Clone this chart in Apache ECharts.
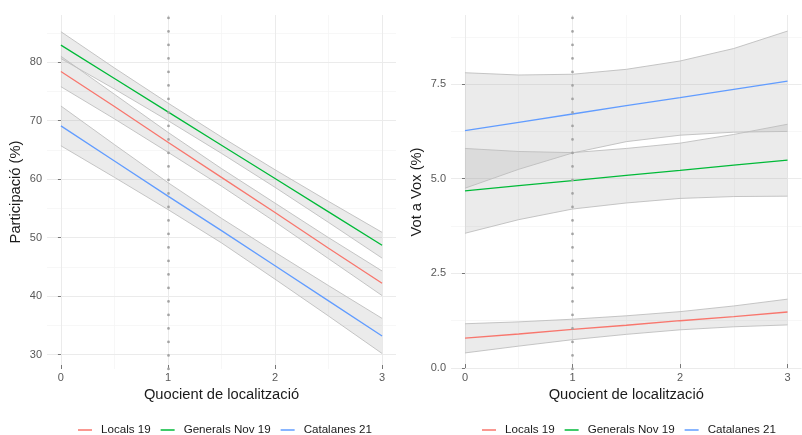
<!DOCTYPE html>
<html><head><meta charset="utf-8">
<script src="https://cdn.jsdelivr.net/npm/echarts@6/dist/echarts.min.js"></script>
<style>html,body{margin:0;padding:0;background:#fff}#c{width:802px;height:435px}</style>
</head><body><div id="c"></div>
<script>
// ---- data ----
const seriesNames = ['Locals 19', 'Generals Nov 19', 'Catalanes 21'];
const xValues = [0, 0.5, 1, 1.5, 2, 2.5, 3];
const xTicks = [0, 1, 2, 3];
const xMinorTicks = [0.5, 1.5, 2.5];
const refLineX = 1;
const xTitle = 'Quocient de localització';

// Left panel: Participació (%)
const partTitle = 'Participació (%)';
const partTicks = [30, 40, 50, 60, 70, 80];
const partMinorTicks = [35, 45, 55, 65, 75, 85];
const partLocals     = [78.4, 72.4, 66.3, 60.3, 54.3, 48.2, 42.2];
const partLocalsLo   = [75.8, 70.3, 64.6, 58.8, 52.7, 46.4, 40.1];
const partLocalsHi   = [81.0, 74.5, 68.0, 61.8, 55.9, 50.0, 44.3];
const partGenerals   = [82.9, 77.2, 71.5, 65.8, 60.1, 54.4, 48.7];
const partGeneralsLo = [80.6, 75.4, 70.0, 64.4, 58.6, 52.6, 46.5];
const partGeneralsHi = [85.2, 79.0, 73.0, 67.2, 61.6, 56.2, 50.9];
const partCatalanes   = [69.1, 63.1, 57.1, 51.2, 45.2, 39.2, 33.2];
const partCatalanesLo = [65.7, 60.3, 54.8, 49.1, 42.9, 36.6, 30.2];
const partCatalanesHi = [72.5, 65.9, 59.4, 53.3, 47.5, 41.8, 36.2];

// Right panel: Vot a Vox (%)
const voxTitle = 'Vot a Vox (%)';
const voxTicks = [0, 2.5, 5, 7.5];
const voxMinorTicks = [1.25, 3.75, 6.25, 8.75];
const voxLocals     = [0.79, 0.90, 1.02, 1.13, 1.25, 1.36, 1.48];
const voxLocalsLo   = [0.40, 0.58, 0.75, 0.89, 1.01, 1.09, 1.14];
const voxLocalsHi   = [1.17, 1.22, 1.29, 1.38, 1.49, 1.64, 1.82];
const voxGenerals   = [4.68, 4.82, 4.95, 5.09, 5.22, 5.36, 5.49];
const voxGeneralsLo = [3.56, 3.92, 4.20, 4.36, 4.48, 4.53, 4.54];
const voxGeneralsHi = [5.80, 5.72, 5.69, 5.80, 5.94, 6.17, 6.44];
const voxCatalanes   = [6.27, 6.49, 6.71, 6.93, 7.14, 7.36, 7.58];
const voxCatalanesLo = [4.75, 5.25, 5.68, 5.98, 6.15, 6.23, 6.25];
const voxCatalanesHi = [7.80, 7.74, 7.76, 7.89, 8.11, 8.44, 8.90];

// ---- style ----
const colors = ['#F8766D', '#00BA38', '#619CFF'];
const font = "'Liberation Sans', Arial, Helvetica, sans-serif";
const bandFill = 'rgba(153,153,153,0.2)';
const bandEdge = '#BEBEBE';

const panels = [
  { lines: [partLocals, partGenerals, partCatalanes],
    los: [partLocalsLo, partGeneralsLo, partCatalanesLo],
    his: [partLocalsHi, partGeneralsHi, partCatalanesHi],
    ticks: partTicks, minor: partMinorTicks, title: partTitle,
    min: 27.55, max: 88.05, nameGap: 24, fmt: v => String(v) },
  { lines: [voxLocals, voxGenerals, voxCatalanes],
    los: [voxLocalsLo, voxGeneralsLo, voxCatalanesLo],
    his: [voxLocalsHi, voxGeneralsHi, voxCatalanesHi],
    ticks: voxTicks, minor: voxMinorTicks, title: voxTitle,
    min: -0.025, max: 9.325, nameGap: 27, fmt: v => Number(v).toFixed(1) }
];

const grids = [
  { left: 47, top: 15, width: 349, height: 354 },
  { left: 451, top: 15, width: 350.5, height: 354 }
];

const xAxes = [], yAxes = [], series = [];
panels.forEach((p, g) => {
  xAxes.push({
    gridIndex: g, type: 'value', min: -0.13, max: 3.13,
    axisLine: { show: false }, splitLine: { show: false },
    axisTick: { show: true, inside: true, length: 4, customValues: xTicks, lineStyle: { color: '#777', width: 1 } },
    axisLabel: { customValues: xTicks, margin: 3, fontSize: 11, color: '#595959', fontFamily: font },
    name: xTitle, nameLocation: 'middle', nameGap: 17,
    nameTextStyle: { fontSize: 14.7, color: '#1a1a1a', fontFamily: font }
  });
  yAxes.push({
    gridIndex: g, type: 'value', min: p.min, max: p.max,
    axisLine: { show: false }, splitLine: { show: false },
    axisTick: { show: true, length: 3, customValues: p.ticks, lineStyle: { color: '#777', width: 1 } },
    axisLabel: { customValues: p.ticks, margin: 5, fontSize: 11, color: '#595959', fontFamily: font, formatter: p.fmt },
    name: p.title, nameLocation: 'middle', nameGap: p.nameGap, nameRotate: 90,
    nameTextStyle: { fontSize: 14.7, color: '#1a1a1a', fontFamily: font }
  });
  const gridLineData = []
    .concat(xMinorTicks.map(v => ({ xAxis: v, lineStyle: { color: '#F4F4F4', width: 0.7, type: 'solid' } })))
    .concat(p.minor.filter(v => v <= p.max).map(v => ({ yAxis: v, lineStyle: { color: '#F4F4F4', width: 0.7, type: 'solid' } })))
    .concat(xTicks.map(v => ({ xAxis: v, lineStyle: { color: '#EBEBEB', width: 1, type: 'solid' } })))
    .concat(p.ticks.map(v => ({ yAxis: v, lineStyle: { color: '#EBEBEB', width: 1, type: 'solid' } })));
  series.push({
    type: 'line', xAxisIndex: g, yAxisIndex: g, silent: true, symbol: 'none', z: 0,
    data: xValues.map((x, i) => [x, p.lines[0][i]]), lineStyle: { opacity: 0 },
    markLine: { silent: true, symbol: 'none', label: { show: false }, z: 0, animation: false, data: gridLineData }
  });
  // confidence bands: filled polygon + edge lines
  p.los.forEach((lo, k) => {
    const hi = p.his[k];
    series.push({
      type: 'custom', xAxisIndex: g, yAxisIndex: g, silent: true, z: 2,
      data: xValues.map((x, i) => [x, lo[i], hi[i]]),
      encode: { x: 0, y: [1, 2] },
      renderItem: (params, api) => {
        if (params.dataIndex !== 0) return null;
        const pts = [];
        for (let i = 0; i < xValues.length; i++) pts.push(api.coord([xValues[i], hi[i]]));
        for (let i = xValues.length - 1; i >= 0; i--) pts.push(api.coord([xValues[i], lo[i]]));
        return { type: 'polygon', shape: { points: pts }, style: { fill: bandFill } };
      }
    });
    [lo, hi].forEach(edge => {
      series.push({
        type: 'line', xAxisIndex: g, yAxisIndex: g, silent: true, symbol: 'none', z: 2,
        data: xValues.map((x, i) => [x, edge[i]]),
        lineStyle: { color: bandEdge, width: 0.9 }, emphasis: { disabled: true }
      });
    });
  });
  // fitted lines
  p.lines.forEach((vals, k) => {
    series.push({
      type: 'line', name: seriesNames[k], xAxisIndex: g, yAxisIndex: g, silent: true, symbol: 'none', z: 3,
      data: xValues.map((x, i) => [x, vals[i]]),
      lineStyle: { color: colors[k], width: 1.3 }, itemStyle: { color: colors[k] },
      emphasis: { disabled: true }
    });
  });
  // dotted reference line
  series.push({
    type: 'line', xAxisIndex: g, yAxisIndex: g, silent: true, symbol: 'none', z: 4,
    data: xValues.map((x, i) => [x, p.lines[0][i]]), lineStyle: { opacity: 0 },
    markLine: { silent: true, symbol: 'none', label: { show: false }, z: 6, animation: false,
      data: [{ xAxis: refLineX, lineStyle: { color: '#A3A3A3', width: 2.7, type: [0.1, 13.4], cap: 'round' } }] }
  });
});

const legendBase = {
  data: seriesNames, top: 419, icon: 'rect', itemWidth: 14, itemHeight: 1.5, itemGap: 10,
  selectedMode: false,
  textStyle: { fontSize: 11.6, color: '#1a1a1a', fontFamily: font, padding: [0, 0, 0, 4] }
};

const chart = echarts.init(document.getElementById('c'), null, { renderer: 'canvas' });
chart.setOption({
  animation: false,
  backgroundColor: '#fff',
  grid: grids,
  xAxis: xAxes,
  yAxis: yAxes,
  legend: [Object.assign({ left: 73 }, legendBase), Object.assign({ left: 477 }, legendBase)],
  series
});
</script></body></html>
